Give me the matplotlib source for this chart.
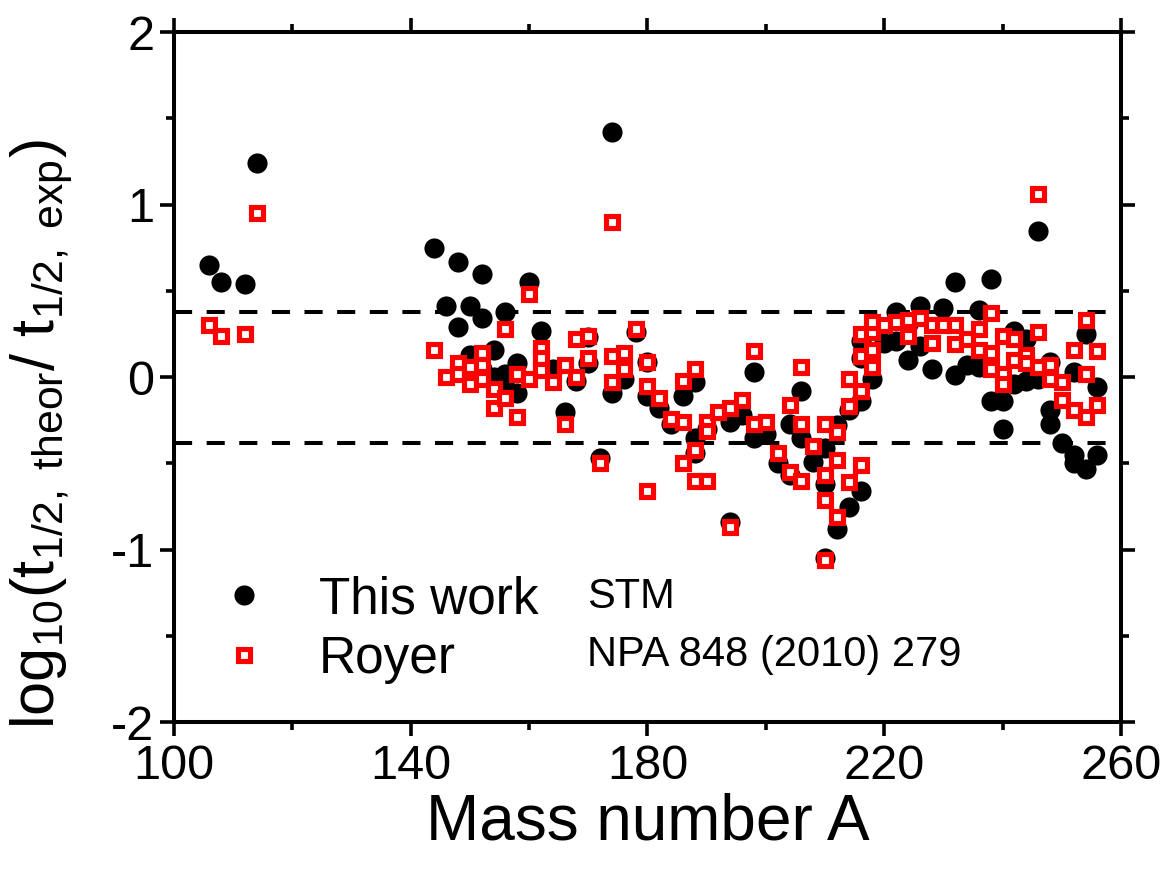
import matplotlib
matplotlib.use("Agg")
import matplotlib.pyplot as plt
from matplotlib.lines import Line2D

plt.rcParams['font.family'] = ['Liberation Sans', 'DejaVu Sans']
plt.rcParams['mathtext.fontset'] = 'custom'
plt.rcParams['mathtext.rm'] = 'Liberation Sans'
plt.rcParams['mathtext.it'] = 'Liberation Sans'
plt.rcParams['axes.unicode_minus'] = False

# log10 ratio of theoretical to experimental half-lives, this work (STM)
stm_A = [106, 108, 112, 114,
         144, 146, 148, 148, 150, 152, 152, 156, 160, 162,
         150, 154, 152, 154, 156, 158, 158, 156, 164,
         170, 170, 168, 166,
         172, 174, 174, 176, 178, 180, 180, 182, 184, 186, 188, 188, 190, 188,
         194, 194, 196, 198, 198, 200,
         202, 204, 204, 206, 206, 208, 210, 210, 210, 212, 212, 214, 214,
         216, 216, 216, 216, 218, 220, 222, 222, 224, 224, 226, 226, 228,
         230, 232, 232, 234, 236, 236, 238, 238, 240, 240, 242, 242, 244,
         244, 246, 246, 248, 248, 248, 250, 252, 252, 252, 254, 254, 256, 256]
stm_val = [0.65, 0.55, 0.54, 1.24,
           0.75, 0.41, 0.67, 0.29, 0.41, 0.60, 0.34, 0.38, 0.55, 0.27,
           0.13, 0.16, 0.05, 0.00, 0.02, 0.08, -0.09, -0.06, 0.05,
           0.23, 0.08, -0.02, -0.20,
           -0.47, 1.42, -0.09, -0.01, 0.26, 0.09, -0.11, -0.18, -0.27, -0.11, -0.03, -0.35, -0.30, -0.44,
           -0.84, -0.26, -0.22, 0.03, -0.35, -0.33,
           -0.50, -0.27, -0.57, -0.08, -0.35, -0.49, -0.41, -0.62, -1.05, -0.28, -0.88, -0.75, -0.19,
           -0.66, -0.14, 0.11, 0.21, -0.01, 0.20, 0.38, 0.21, 0.31, 0.10, 0.41, 0.18, 0.05,
           0.40, 0.55, 0.01, 0.07, 0.39, 0.06, 0.57, -0.14, -0.14, -0.30, 0.27, -0.04, 0.22,
           -0.02, 0.85, -0.01, 0.09, -0.19, -0.27, -0.38, 0.03, -0.45, -0.50, 0.25, -0.53, -0.06, -0.45]

# Royer formula, NPA 848 (2010) 279
roy_A = [106, 108, 112, 114,
         144, 146, 148, 148, 150, 150, 152, 152, 152, 154, 154, 156, 156, 158, 158, 160,
         160, 162, 162, 162, 164, 166, 166, 168, 168, 170, 170,
         172, 174, 174, 174, 176, 176, 178, 180, 180, 180, 182, 184, 186, 186, 186, 188,
         188, 188, 190, 190, 190, 192, 194, 194, 196, 198, 198, 200,
         202, 204, 204, 206, 206, 206, 208, 210, 210, 210, 210, 212, 212, 212, 214, 214,
         214, 216, 216, 216, 216, 218, 218, 218, 218, 220, 222, 224, 224, 226, 228, 228,
         230, 232, 232, 234, 236, 236, 238, 238, 238, 240, 240, 240, 242, 242, 244, 244,
         246, 246, 246, 248, 248, 250, 250, 252, 252, 254, 254, 254, 256, 256]
roy_val = [0.30, 0.24, 0.25, 0.95,
           0.16, 0.00, 0.08, 0.02, 0.06, -0.04, 0.14, 0.07, -0.01, -0.07, -0.18, -0.12, 0.28, -0.23, 0.02, -0.01,
           0.48, 0.17, 0.11, 0.04, -0.03, 0.07, -0.27, 0.00, 0.22, 0.24, 0.11,
           -0.50, 0.90, 0.12, -0.03, 0.14, 0.05, 0.28, 0.09, -0.05, -0.66, -0.12, -0.24, -0.26, -0.02, -0.50, 0.05,
           -0.42, -0.60, -0.60, -0.26, -0.31, -0.20, -0.18, -0.87, -0.13, -0.27, 0.15, -0.26,
           -0.44, -0.16, -0.55, 0.06, -0.27, -0.60, -0.40, -0.27, -0.57, -0.71, -1.06, -0.32, -0.48, -0.81, -0.61, -0.17,
           -0.01, -0.51, -0.08, 0.12, 0.25, 0.16, 0.06, 0.26, 0.32, 0.30, 0.32, 0.24, 0.33, 0.34, 0.20, 0.30,
           0.30, 0.30, 0.19, 0.22, 0.28, 0.16, 0.14, 0.37, 0.05, 0.24, 0.02, -0.04, 0.22, 0.10, 0.13, 0.08,
           1.06, 0.26, 0.06, 0.07, -0.01, -0.03, -0.13, 0.16, -0.19, 0.33, 0.02, -0.23, 0.15, -0.16]

band = 0.38

fig = plt.figure(figsize=(11.67, 8.69), dpi=100)
ax = fig.add_axes([0.149, 0.169, 0.8116, 0.794])

circle_style = dict(linestyle='none', marker='o', markersize=14.5,
                    markerfacecolor='black', markeredgecolor='black',
                    markeredgewidth=0)
square_style = dict(linestyle='none', marker='s', markersize=8.6,
                    markerfacecolor='white', markeredgecolor='#ff0000',
                    markeredgewidth=3.7)

ax.plot(stm_A, stm_val, zorder=3, **circle_style)
ax.plot(roy_A, roy_val, zorder=4, **square_style)

for yv in (band, -band):
    ax.axhline(yv, color='black', linewidth=2.9, linestyle=(0, (4.5, 3.6)), zorder=2)

ax.set_xlim(100, 260)
ax.set_ylim(-2, 2)
ax.set_xticks([100, 140, 180, 220, 260])
ax.set_xticks([120, 160, 200, 240], minor=True)
ax.set_yticks([-2, -1, 0, 1, 2])
ax.set_yticks([-1.5, -0.5, 0.5, 1.5], minor=True)

for s in ax.spines.values():
    s.set_linewidth(2.9)
ax.tick_params(which='both', direction='out', top=True, right=True,
               labeltop=False, labelright=False, width=2.6)
ax.tick_params(which='major', length=10, labelsize=35)
ax.tick_params(which='minor', length=6)
ax.tick_params(axis='x', which='major', pad=6)
ax.tick_params(axis='y', which='major', pad=4)

ax.set_xlabel('Mass number A', fontsize=46, labelpad=2)
fig.text(0.036, 0.5,
         r'$\mathregular{log_{10}(t_{1/2,\ theor}/\ t_{1/2,\ exp})}$',
         rotation=90, fontsize=44, ha='center', va='center')

handles = [Line2D([], [], **circle_style), Line2D([], [], **square_style)]
ax.legend(handles, ['This work', 'Royer'], loc='upper left',
          bbox_to_anchor=(0.02, 0.25), frameon=False, fontsize=37,
          handlelength=1.0, handletextpad=0.95, labelspacing=0.2,
          borderpad=0.0)

fig.text(587 / 1167, 1 - 597 / 869, 'STM', fontsize=30, va='center', ha='left')
fig.text(587 / 1167, 1 - 655 / 869, 'NPA 848 (2010) 279', fontsize=30,
         va='center', ha='left')

fig.savefig('out.png', dpi=100)
